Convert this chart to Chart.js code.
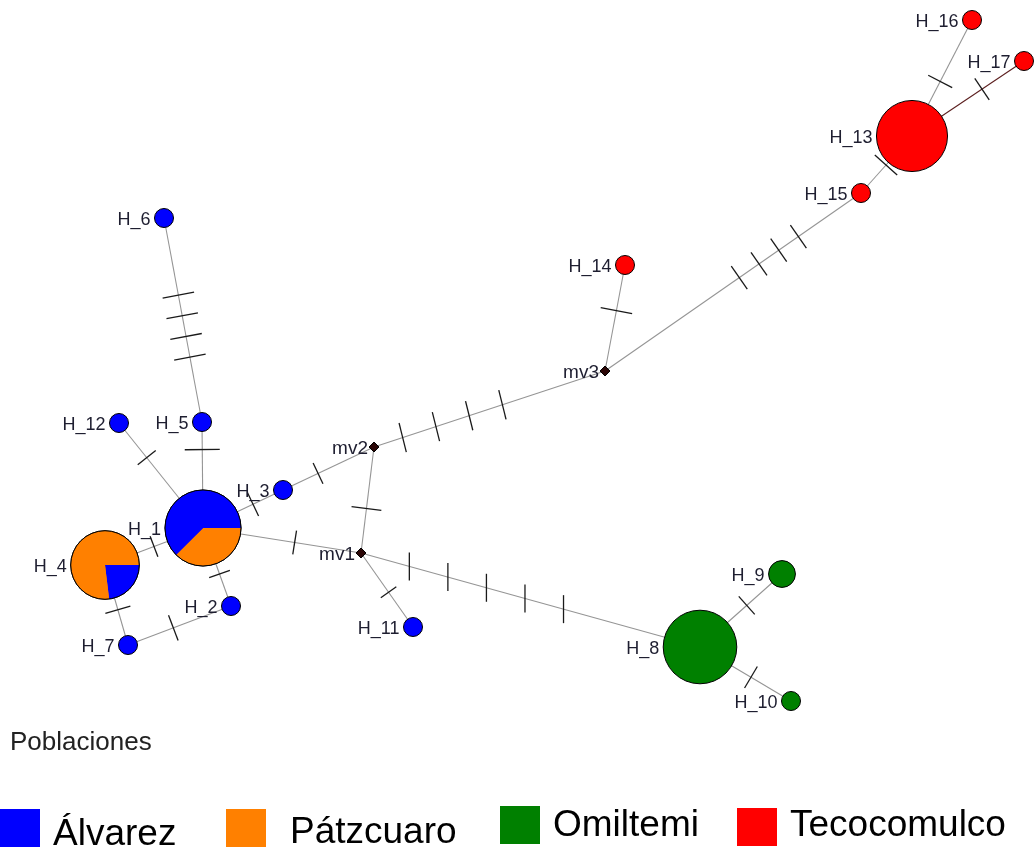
<!DOCTYPE html>
<html>
<head>
<meta charset="utf-8">
<title>Red de haplotipos</title>
<script src="https://cdn.jsdelivr.net/npm/chart.js@4.4.1/dist/chart.umd.min.js"></script>
<style>
  html, body { margin: 0; padding: 0; background: #ffffff; }
  canvas { display: block; }
</style>
</head>
<body>
<canvas id="net" width="1034" height="850"></canvas>
<script>
// ---- Haplotypes and their frequency per population ----
const haplotypes      = ['H_1','H_2','H_3','H_4','H_5','H_6','H_7','H_8','H_9','H_10','H_11','H_12','H_13','H_14','H_15','H_16','H_17'];
const countAlvarez    = [10, 1, 1, 3, 1, 1, 1, 0, 0, 0, 1, 1, 0, 0, 0, 0, 0];
const countPatzcuaro  = [ 6, 0, 0,10, 0, 0, 0, 0, 0, 0, 0, 0, 0, 0, 0, 0, 0];
const countOmiltemi   = [ 0, 0, 0, 0, 0, 0, 0,15, 2, 1, 0, 0, 0, 0, 0, 0, 0];
const countTecocomulco= [ 0, 0, 0, 0, 0, 0, 0, 0, 0, 0, 0, 0,14, 1, 1, 1, 1];

// Network layout coordinates of each haplotype
const hapX = [203, 231, 283, 105, 202, 164, 128, 700, 782, 791, 413, 119, 912, 625, 861, 972, 1024];
const hapY = [528, 606, 490, 565, 422, 218, 645, 647, 574, 701, 627, 423, 136, 265, 193,  20,   61];

// Median vectors (inferred, unsampled nodes)
const medianVectors = ['mv1', 'mv2', 'mv3'];
const mvX = [361, 374, 605];
const mvY = [553, 447, 371];

// Edges and number of mutational steps on each
const edgeFrom      = ['H_6','H_5','H_12','H_3','H_1','H_1','H_1','H_4','H_7','H_3','mv2','mv1','mv1','mv2','mv3','mv3','H_15','H_13','H_13','H_8','H_8'];
const edgeTo        = ['H_5','H_1','H_1','H_1','H_4','H_2','mv1','H_7','H_2','mv2','mv1','H_11','H_8','mv3','H_14','H_15','H_13','H_16','H_17','H_9','H_10'];
const edgeMutations = [4, 1, 1, 1, 1, 1, 1, 1, 1, 1, 1, 1, 5, 4, 1, 4, 1, 1, 1, 1, 1];

// Populations
const populations = ['Álvarez', 'Pátzcuaro', 'Omiltemi', 'Tecocomulco'];
const popCounts   = [countAlvarez, countPatzcuaro, countOmiltemi, countTecocomulco];

// ---- Drawing style ----
const popColors = ['#0000ff', '#ff8000', '#008000', '#ff0000'];
const radiusUnit = 9.5;            // node radius for a single sequence (area ∝ count)
const edgeColor = '#959595';
const edgeColorsSpecial = { 'H_13-H_17': '#5c1f1f' };
// placement of the hatch marks along each edge:
// [centre fraction, spacing px, tick length px, optional fixed tick angle in degrees]
const hatchStyle = [
  [0.53, 21, 32], [0.26, 0, 35], [0.33, 0, 23], [0.375, 0, 26], [0.50, 0, 22],
  [0.59, 0, 22], [0.58, 0, 24], [0.56, 0, 26], [0.44, 0, 27], [0.385, 0, 23],
  [0.58, 0, 30], [0.53, 0, 19], [0.37, 40, 28, 90], [0.34, 35, 30, 76], [0.57, 0, 32],
  [0.64, 24, 28], [0.49, 0, 30], [0.47, 0, 27], [0.625, 0, 26], [0.57, 0, 24], [0.56, 0, 25]
];
const labelFont = '18px "Liberation Sans", Arial, sans-serif';
const mvLabelFont = '19px "Liberation Sans", Arial, sans-serif';

// ---- Derived tables ----
const totals = haplotypes.map((_, i) => popCounts.reduce((s, arr) => s + arr[i], 0));
const radii = totals.map(n => radiusUnit * Math.sqrt(n));
const mainPop = haplotypes.map((_, i) => {
  let best = 0;
  popCounts.forEach((arr, p) => { if (arr[i] > popCounts[best][i]) best = p; });
  return best;
});

function nodePos(name) {
  let i = haplotypes.indexOf(name);
  if (i >= 0) return { x: hapX[i], y: hapY[i] };
  i = medianVectors.indexOf(name);
  return { x: mvX[i], y: mvY[i] };
}

const edgeDatasets = edgeFrom.map((f, k) => {
  const a = nodePos(f), b = nodePos(edgeTo[k]);
  const key = f + '-' + edgeTo[k];
  return {
    label: key,
    data: [a, b],
    showLine: true,
    borderColor: edgeColorsSpecial[key] || edgeColor,
    borderWidth: 1.1,
    pointRadius: 0,
    pointHoverRadius: 0,
    order: 3,
    clip: false
  };
});

const hapDataset = {
  label: 'haplotipos',
  data: haplotypes.map((_, i) => ({ x: hapX[i], y: hapY[i] })),
  pointRadius: radii,
  pointHoverRadius: radii,
  pointStyle: 'circle',
  backgroundColor: mainPop.map(p => popColors[p]),
  borderColor: '#000000',
  borderWidth: 1,
  showLine: false,
  order: 2,
  clip: false
};

const mvDataset = {
  label: 'vectores medios',
  data: medianVectors.map((_, i) => ({ x: mvX[i], y: mvY[i] })),
  pointRadius: 5,
  pointHoverRadius: 5,
  pointStyle: 'rectRot',
  backgroundColor: '#2a0505',
  borderColor: '#000000',
  borderWidth: 1,
  showLine: false,
  order: 1,
  clip: false
};

// Hatch marks: one short cross line per mutational step
const hatchPlugin = {
  id: 'hatches',
  afterDatasetsDraw(chart) {
    const ctx = chart.ctx, xs = chart.scales.x, ys = chart.scales.y;
    ctx.save();
    ctx.strokeStyle = '#1a1a1a';
    ctx.lineWidth = 1.3;
    edgeFrom.forEach((f, k) => {
      const a = nodePos(f), b = nodePos(edgeTo[k]);
      const ax = xs.getPixelForValue(a.x), ay = ys.getPixelForValue(a.y);
      const bx = xs.getPixelForValue(b.x), by = ys.getPixelForValue(b.y);
      const dx = bx - ax, dy = by - ay, len = Math.hypot(dx, dy);
      const ux = dx / len, uy = dy / len;
      const [c, sp, tl, fixedAng] = hatchStyle[k];
      let nx = -uy, ny = ux;
      if (fixedAng !== undefined) {
        nx = Math.cos(fixedAng * Math.PI / 180);
        ny = Math.sin(fixedAng * Math.PI / 180);
      }
      const m = edgeMutations[k];
      const cx = ax + dx * c, cy = ay + dy * c;
      for (let j = 0; j < m; j++) {
        const off = (j - (m - 1) / 2) * sp;
        const px = cx + ux * off, py = cy + uy * off;
        ctx.beginPath();
        ctx.moveTo(px - nx * tl / 2, py - ny * tl / 2);
        ctx.lineTo(px + nx * tl / 2, py + ny * tl / 2);
        ctx.stroke();
      }
    });
    ctx.restore();
  }
};

// Pie slices for haplotypes shared between populations, plus node labels
const pieLabelPlugin = {
  id: 'pieLabels',
  afterDatasetsDraw(chart) {
    const ctx = chart.ctx;
    const hapMeta = chart.getDatasetMeta(edgeDatasets.length);
    const mvMeta = chart.getDatasetMeta(edgeDatasets.length + 1);
    ctx.save();
    hapMeta.data.forEach((pt, i) => {
      const parts = popCounts.map((arr, p) => ({ p, n: arr[i] })).filter(o => o.n > 0);
      if (parts.length < 2) return;
      parts.sort((a, b) => a.n - b.n);
      let ang = 0;
      parts.forEach(o => {
        const sweep = 2 * Math.PI * o.n / totals[i];
        ctx.beginPath();
        ctx.moveTo(pt.x, pt.y);
        ctx.arc(pt.x, pt.y, radii[i], ang, ang + sweep);
        ctx.closePath();
        ctx.fillStyle = popColors[o.p];
        ctx.fill();
        ang += sweep;
      });
      ctx.beginPath();
      ctx.arc(pt.x, pt.y, radii[i], 0, 2 * Math.PI);
      ctx.strokeStyle = '#000000';
      ctx.lineWidth = 1;
      ctx.stroke();
    });
    ctx.fillStyle = '#1e1e30';
    ctx.textAlign = 'right';
    ctx.textBaseline = 'alphabetic';
    ctx.font = labelFont;
    hapMeta.data.forEach((pt, i) => {
      ctx.fillText(haplotypes[i], pt.x - radii[i] - 4, pt.y + 6.5);
    });
    ctx.font = mvLabelFont;
    mvMeta.data.forEach((pt, i) => {
      ctx.fillText(medianVectors[i], pt.x - 6, pt.y + 7);
    });
    ctx.restore();
  }
};

// Population key at the bottom
const keyPlugin = {
  id: 'poblaciones',
  afterDraw(chart) {
    const ctx = chart.ctx;
    ctx.save();
    ctx.fillStyle = '#222222';
    ctx.textAlign = 'left';
    ctx.textBaseline = 'alphabetic';
    ctx.font = '26px "Liberation Sans", Arial, sans-serif';
    ctx.fillText('Poblaciones', 10, 750);
    const boxX = [0, 226, 500, 737];
    const boxY = [809, 809, 806, 808];
    const textX = [53, 290, 553, 790];
    const textY = [845, 843, 836, 836];
    ctx.font = '37px "Liberation Sans", Arial, sans-serif';
    populations.forEach((name, p) => {
      ctx.fillStyle = popColors[p];
      ctx.fillRect(boxX[p], boxY[p], 40, 38);
      ctx.fillStyle = '#000000';
      ctx.fillText(name, textX[p], textY[p]);
    });
    ctx.restore();
  }
};

new Chart(document.getElementById('net'), {
  type: 'scatter',
  data: { datasets: [...edgeDatasets, hapDataset, mvDataset] },
  options: {
    responsive: false,
    devicePixelRatio: 1,
    animation: false,
    events: [],
    layout: { padding: 0, autoPadding: false },
    scales: {
      x: { type: 'linear', min: 0, max: 1034, display: false },
      y: { type: 'linear', min: 0, max: 850, reverse: true, display: false }
    },
    plugins: {
      legend: { display: false },
      tooltip: { enabled: false }
    }
  },
  plugins: [hatchPlugin, pieLabelPlugin, keyPlugin]
});
</script>
</body>
</html>
